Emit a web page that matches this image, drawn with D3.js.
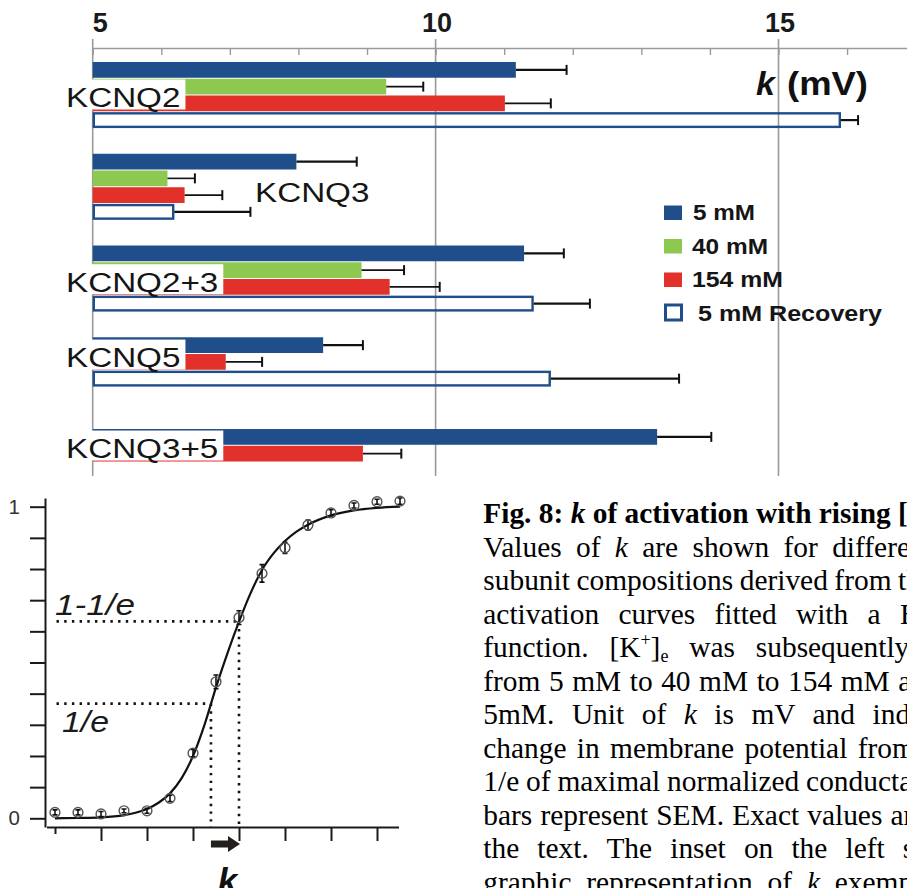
<!DOCTYPE html>
<html><head><meta charset="utf-8">
<script src="https://cdn.jsdelivr.net/npm/d3@7"></script>
<style>html,body{margin:0;padding:0;background:#fff;overflow:hidden}svg{display:block}</style>
</head><body>
<svg id="fig" width="907" height="888"></svg>
<script>
// ---------------- DATA ----------------
const categories = ["KCNQ2", "KCNQ3", "KCNQ2+3", "KCNQ5", "KCNQ3+5"];
const seriesNames = ["5 mM", "40 mM", "154 mM", "5 mM Recovery"];
const k5mM        = [11.17, 7.97, 11.29, 8.36, 13.23];
const k5mMErr     = [0.74, 0.88, 0.58, 0.58, 0.79];
const k40mM       = [9.28, 6.09, 8.92, null, null];
const k40mMErr    = [0.54, 0.40, 0.62, null, null];
const k154mM      = [11.01, 6.34, 9.33, 6.94, 8.94];
const k154mMErr   = [0.67, 0.55, 0.73, 0.53, 0.56];
const kRecovery   = [15.91, 6.19, 11.43, 11.68, null];
const kRecoveryErr= [0.25, 1.11, 0.82, 1.87, null];
const kTickMajor  = [5, 10, 15];
const kTickLabels = ["5", "10", "15"];

// inset: normalized conductance vs voltage
const insetV    = [-80, -70, -60, -50, -40, -30, -20, -10, 0, 10, 20, 30, 40, 50, 60, 70];
const insetG    = [0.019, 0.019, 0.014, 0.024, 0.024, 0.064, 0.209, 0.438, 0.644, 0.786, 0.868, 0.941, 0.980, 1.004, 1.016, 1.018];
const insetErr  = [0.008, 0.008, 0.008, 0.006, 0.008, 0.010, 0.012, 0.022, 0.022, 0.028, 0.018, 0.016, 0.010, 0.008, 0.008, 0.010];
const fitV      = [-80, -70, -60, -50, -45, -40, -35, -30, -25, -20, -15, -10, -5, 0, 5, 10, 15, 20, 25, 30, 40, 50, 60, 70];
const fitG      = [0.000, 0.001, 0.003, 0.010, 0.018, 0.030, 0.050, 0.080, 0.128, 0.200, 0.300, 0.420, 0.530, 0.631, 0.722, 0.797, 0.850, 0.890, 0.920, 0.942, 0.972, 0.988, 0.996, 1.000];
const kMarkV    = [-12.2, 0];
const kMarkLevel= [1 / Math.E, 1 - 1 / Math.E];
const kMarkText = ["1/e", "1-1/e"];
const insetYLabels = [0, 1];

const captionLines = [
  "Fig. 8: *k* of activation with rising [K^+^]_e_",
  "Values of *k* are shown for different",
  "subunit compositions derived from the",
  "activation curves fitted with a Boltzmann",
  "function. [K^+^]_e_ was subsequently",
  "from 5 mM to 40 mM to 154 mM and",
  "5mM. Unit of *k* is mV and indicates",
  "change in membrane potential from",
  "1/e of maximal normalized conductance.",
  "bars represent SEM. Exact values are",
  "the text. The inset on the left side",
  "graphic representation of *k* exemplified"
];
const captionWordSpacing = [0, 7, -0.8, 12, 13.5, 1.2, 10.2, 3, -0.5, 0.8, 10.8, 7.5];

// ---------------- DRAW ----------------
const svg = d3.select("#fig");
const SANS = "'Liberation Sans', Arial, Helvetica, sans-serif";
const SERIF = "'Liberation Serif', 'Times New Roman', serif";
const colors = ["#1f4e8a", "#8dc850", "#e2312a", "#1f4e8a"];
const gridColor = "#9a9a9a";

function stretch(sel, f) {
  sel.each(function () {
    const w = this.getComputedTextLength();
    d3.select(this).attr("textLength", w * f).attr("lengthAdjust", "spacingAndGlyphs");
  });
}

// ---- bar chart
const x = d3.scaleLinear().domain([5, 15]).range([92.7, 778.5]);
const axisY = 48, chartBottom = 476;
const xAxisScale = x.copy().domain([5, x.invert(907)]).range([x(5), 907]);

const yGroup = d3.scaleBand().domain(categories).range([62, 495]).paddingInner(0.281).paddingOuter(0).align(0);
const ySlot = d3.scaleBand().domain([0, 1, 2, 3]).range([0, yGroup.bandwidth()]).paddingInner(0.06);

const chart = svg.append("g");

// minor ticks + axis line
const axG = chart.append("g").attr("transform", `translate(0,${axisY})`)
  .call(d3.axisBottom(xAxisScale).tickValues(d3.range(5, 17)).tickSize(7).tickSizeOuter(0).tickFormat(""));
axG.select(".domain").attr("stroke", gridColor).attr("stroke-width", 1.6);
axG.selectAll(".tick line").attr("stroke", gridColor).attr("stroke-width", 1.4);

// major grid lines
chart.append("g").selectAll("line").data(kTickMajor).join("line")
  .attr("x1", d => x(d)).attr("x2", d => x(d))
  .attr("y1", axisY - 9).attr("y2", chartBottom)
  .attr("stroke", gridColor).attr("stroke-width", 1.6);

// tick labels
chart.append("g").selectAll("text").data(kTickMajor).join("text")
  .attr("x", (d, i) => i === 0 ? x(d) : x(d) + 1.5)
  .attr("y", 32.3)
  .attr("text-anchor", (d, i) => i === 0 ? "start" : "middle")
  .style("font-family", SANS).style("font-weight", "bold").style("font-size", "27px")
  .attr("fill", "#1a1a1a")
  .text((d, i) => kTickLabels[i]);

// bars
const seriesVals = [k5mM, k40mM, k154mM, kRecovery];
const seriesErrs = [k5mMErr, k40mMErr, k154mMErr, kRecoveryErr];
const bars = [];
categories.forEach((c, i) => {
  let slot = 0;
  seriesVals.forEach((arr, s) => {
    if (arr[i] != null) { bars.push({ cat: c, s, slot, v: arr[i], e: seriesErrs[s][i] }); slot++; }
  });
});
const bw = ySlot.bandwidth();
const barY = d => yGroup(d.cat) + ySlot(d.slot);

chart.append("g").selectAll("rect").data(bars.filter(d => d.s !== 3)).join("rect")
  .attr("x", x(5)).attr("y", barY)
  .attr("width", d => x(d.v) - x(5)).attr("height", bw)
  .attr("fill", d => colors[d.s]);
chart.append("g").selectAll("rect").data(bars.filter(d => d.s === 3)).join("rect")
  .attr("x", x(5) + 1.1).attr("y", d => barY(d) + 1.1)
  .attr("width", d => x(d.v) - x(5) - 2.2).attr("height", bw - 2.2)
  .attr("fill", "none").attr("stroke", colors[3]).attr("stroke-width", 2.4);

// error bars
const eg = chart.append("g").attr("stroke", "#111");
eg.selectAll("line.eb").data(bars).join("line").attr("class", "eb")
  .attr("x1", d => x(d.v)).attr("x2", d => x(d.v + d.e))
  .attr("y1", d => barY(d) + bw / 2).attr("y2", d => barY(d) + bw / 2)
  .attr("stroke-width", d => (d.s === 1 || d.s === 2) ? 1.6 : 2.2);
eg.selectAll("line.cap").data(bars).join("line").attr("class", "cap")
  .attr("x1", d => x(d.v + d.e)).attr("x2", d => x(d.v + d.e))
  .attr("y1", d => barY(d) + bw / 2 - 5).attr("y2", d => barY(d) + bw / 2 + 5)
  .attr("stroke-width", 2);

// category labels with white boxes
const labelX = [66, 255, 66, 66, 66];
const labelDy = [45, 48.5, 46.2, 29.8, 29];
const lg = chart.append("g");
categories.forEach((c, i) => {
  const bx = lg.append("rect").attr("fill", "#fff");
  const t = lg.append("text")
    .attr("x", labelX[i]).attr("y", yGroup(c) + labelDy[i])
    .attr("font-family", SANS).attr("font-size", 27).attr("fill", "#151515")
    .text(c).call(stretch, 1.23);
  const w = +t.attr("textLength");
  const by = yGroup(c) + labelDy[i];
  bx.attr("x", labelX[i] - 4).attr("y", by - 27.5).attr("width", w + 9).attr("height", 30);
});

// k (mV) label
chart.append("text").attr("x", 756).attr("y", 95)
  .attr("font-family", SANS).attr("font-size", 34).attr("font-weight", "bold").attr("font-style", "italic")
  .attr("fill", "#111").text("k");
chart.append("text").attr("x", 787).attr("y", 95)
  .attr("font-family", SANS).attr("font-size", 34).attr("font-weight", "bold")
  .attr("fill", "#111").attr("textLength", 81).attr("lengthAdjust", "spacingAndGlyphs").text("(mV)");

// legend
const legBase = [220, 253.5, 287, 321];
const legTextX = [693, 692, 692, 698];
const legW = [62, 76, 91, 184];
const leg = chart.append("g");
seriesNames.forEach((n, i) => {
  if (i < 3) {
    leg.append("rect").attr("x", 664).attr("y", legBase[i] - 14.5).attr("width", 18).attr("height", 14.5).attr("fill", colors[i]);
  } else {
    leg.append("rect").attr("x", 665.5).attr("y", legBase[i] - 16).attr("width", 16).attr("height", 15)
      .attr("fill", "#fff").attr("stroke", colors[3]).attr("stroke-width", 3);
  }
  leg.append("text").attr("x", legTextX[i]).attr("y", legBase[i])
    .attr("font-family", SANS).attr("font-weight", "bold").attr("font-size", 22).attr("fill", "#151515")
    .attr("textLength", legW[i]).attr("lengthAdjust", "spacingAndGlyphs").text(n);
});

// ---- inset
const xs = d3.scaleLinear().domain([-80, 70]).range([55, 400]);
const ys = d3.scaleLinear().domain([0, 1]).range([818.3, 506.7]);
const ink = "#1a1a1a";
const inset = svg.append("g");

const ysAxis = ys.copy().domain([ys.invert(827), ys.invert(498)]).range([827, 498]);
const yAx = inset.append("g").attr("transform", "translate(45,0)")
  .call(d3.axisLeft(ysAxis).tickValues(d3.range(0, 11).map(d => d / 10)).tickSize(15).tickSizeOuter(0).tickPadding(10)
    .tickFormat(d => insetYLabels.includes(d) ? d3.format("d")(d) : ""));
yAx.select(".domain").attr("stroke", ink).attr("stroke-width", 2);
yAx.selectAll(".tick line").attr("stroke", ink).attr("stroke-width", 2);
yAx.selectAll(".tick text").style("font-family", SANS).style("font-size", "20.5px").attr("fill", "#333");

const xsAxis = xs.copy().domain([xs.invert(46.5), xs.invert(398.5)]).range([46.5, 398.5]);
const xAx = inset.append("g").attr("transform", "translate(0,827)")
  .call(d3.axisBottom(xsAxis).tickValues(d3.range(-80, 61, 20)).tickSize(14).tickSizeOuter(0).tickFormat(""));
xAx.select(".domain").attr("stroke", ink).attr("stroke-width", 2);
xAx.selectAll(".tick line").attr("stroke", ink).attr("stroke-width", 2)
  .attr("y2", (d, i) => i === 0 ? 7 : 14);

// dotted guide lines
const dot = { stroke: "#111", "stroke-width": 2.6, "stroke-dasharray": "2.4 5.3" };
kMarkV.forEach((v, i) => {
  const h = inset.append("line").attr("x1", xs(-80) + 1.5).attr("x2", xs(v))
    .attr("y1", ys(kMarkLevel[i])).attr("y2", ys(kMarkLevel[i]));
  const vl = inset.append("line").attr("x1", xs(v)).attr("x2", xs(v))
    .attr("y1", ys(kMarkLevel[i])).attr("y2", 827);
  [h, vl].forEach(s => Object.entries(dot).forEach(([k, val]) => s.attr(k, val)));
});

// fit curve
inset.append("path").datum(fitV.map((v, i) => [v, fitG[i]]))
  .attr("d", d3.line().x(d => xs(d[0])).y(d => ys(d[1])).curve(d3.curveMonotoneX))
  .attr("fill", "none").attr("stroke", "#111").attr("stroke-width", 2.2);

// data points
const pts = insetV.map((v, i) => ({ v, g: insetG[i], e: insetErr[i] }));
inset.append("g").selectAll("path").data(pts).join("path")
  .attr("d", d => `M${xs(d.v)},${ys(d.g + d.e)}V${ys(d.g - d.e)}M${xs(d.v) - 2.5},${ys(d.g + d.e)}h5M${xs(d.v) - 2.5},${ys(d.g - d.e)}h5`)
  .attr("stroke", "#111").attr("stroke-width", 1.6).attr("fill", "none");
inset.append("g").selectAll("circle").data(pts).join("circle")
  .attr("cx", d => xs(d.v)).attr("cy", d => ys(d.g)).attr("r", 4.9)
  .attr("fill", "none").attr("stroke", "#555").attr("stroke-width", 1.4);

// level labels
inset.append("text").attr("x", 55).attr("y", 615)
  .attr("font-family", SANS).attr("font-style", "italic").attr("font-size", 30).attr("fill", ink)
  .attr("textLength", 80).attr("lengthAdjust", "spacingAndGlyphs").text(kMarkText[1]);
inset.append("text").attr("x", 62).attr("y", 731.7)
  .attr("font-family", SANS).attr("font-style", "italic").attr("font-size", 30).attr("fill", ink)
  .attr("textLength", 47).attr("lengthAdjust", "spacingAndGlyphs").text(kMarkText[0]);

// arrow and k
const ax0 = xs(kMarkV[0]), ax1 = xs(kMarkV[1]) + 1, ay = 844;
inset.append("path")
  .attr("d", `M${ax0},${ay - 3.5}H${ax1 - 12}V${ay - 8}L${ax1},${ay}L${ax1 - 12},${ay + 8}V${ay + 3.5}H${ax0}Z`)
  .attr("fill", "#231f1c");
inset.append("text").attr("x", (ax0 + ax1) / 2 + 2).attr("y", 893).attr("text-anchor", "middle")
  .attr("font-family", SANS).attr("font-size", 35).attr("font-weight", "bold").attr("font-style", "italic")
  .attr("fill", "#111").text("k");

// ---- caption
const cap = svg.append("g");
captionLines.forEach((line, li) => {
  const t = cap.append("text").attr("x", 483.3).attr("y", 523.3 + li * 33.5)
    .attr("font-family", SERIF).attr("font-size", 29.4).attr("fill", "#000")
    .attr("font-weight", li === 0 ? "bold" : "normal")
    .style("word-spacing", captionWordSpacing[li] + "px");
  const parts = line.split(/(\*[^*]+\*|\^[^^]+\^|_[^_]+_)/g).filter(p => p.length);
  let shift = 0;
  parts.forEach(p => {
    const sp = t.append("tspan");
    let target = 0, txt = p;
    if (p[0] === "*") { txt = p.slice(1, -1); sp.attr("font-style", "italic"); }
    else if (p[0] === "^") { txt = p.slice(1, -1); target = -11; sp.attr("font-size", 18); }
    else if (p[0] === "_") { txt = p.slice(1, -1); target = 5; sp.attr("font-size", 18); }
    if (target !== shift) { sp.attr("dy", target - shift); shift = target; }
    sp.text(txt);
  });
});
</script>
</body></html>
